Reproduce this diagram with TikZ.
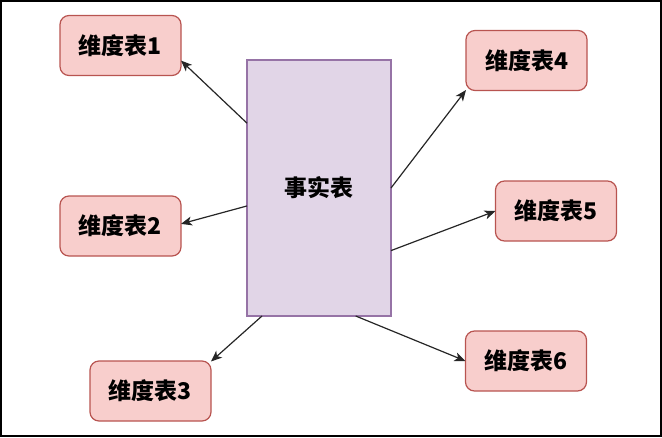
\documentclass[tikz,border=0pt]{standalone}
\usepackage{fontspec}
\newfontfamily\cjk{Noto Sans CJK SC}
\usetikzlibrary{arrows.meta}
\definecolor{dimfill}{HTML}{F8CECC}
\definecolor{dimline}{HTML}{B85450}
\definecolor{factfill}{HTML}{E1D5E7}
\definecolor{factline}{HTML}{9673A6}
\tikzset{
  dimbox/.style={draw=dimline, fill=dimfill, line width=1.2pt, rounded corners=9pt,
    minimum width=121pt, minimum height=60pt, inner sep=0pt, outer sep=0pt,
    font=\cjk\bfseries\fontsize{23}{27}\selectfont},
  factbox/.style={draw=factline, fill=factfill, line width=1.2pt,
    minimum width=144pt, minimum height=256pt, inner sep=0pt, outer sep=0pt,
    font=\cjk\bfseries\fontsize{23}{27}\selectfont},
  arr/.style={draw=black!85, line width=1.2pt, -{Stealth[length=11pt,width=9pt,inset=3pt]}}
}
\begin{document}
\begin{tikzpicture}[x=1pt,y=-1pt]
\path[use as bounding box] (0,0) rectangle (662,437);
\draw[line width=2pt] (1,1) rectangle (660.5,435.5);
\node[factbox] (f) at (319,188) {事实表};
\node[dimbox] (n1) at (120.5,45.5) {维度表1};
\node[dimbox] (n2) at (120.5,226) {维度表2};
\node[dimbox] (n3) at (150.5,391) {维度表3};
\node[dimbox] (n4) at (526.5,60.5) {维度表4};
\node[dimbox] (n5) at (556,211) {维度表5};
\node[dimbox] (n6) at (526,361) {维度表6};
\draw[arr] (f.138.4) -- (n1.-14.4);
\draw[arr] (f.194.8) -- (n2.2.8);
\draw[arr] (f.246.4) -- (n3.26.4);
\draw[arr] (f.0.8) -- (n4.206.8);
\draw[arr] (f.-41.6) -- (n5.west);
\draw[arr] (f.-74.3) -- (n6.west);
\end{tikzpicture}
\end{document}
